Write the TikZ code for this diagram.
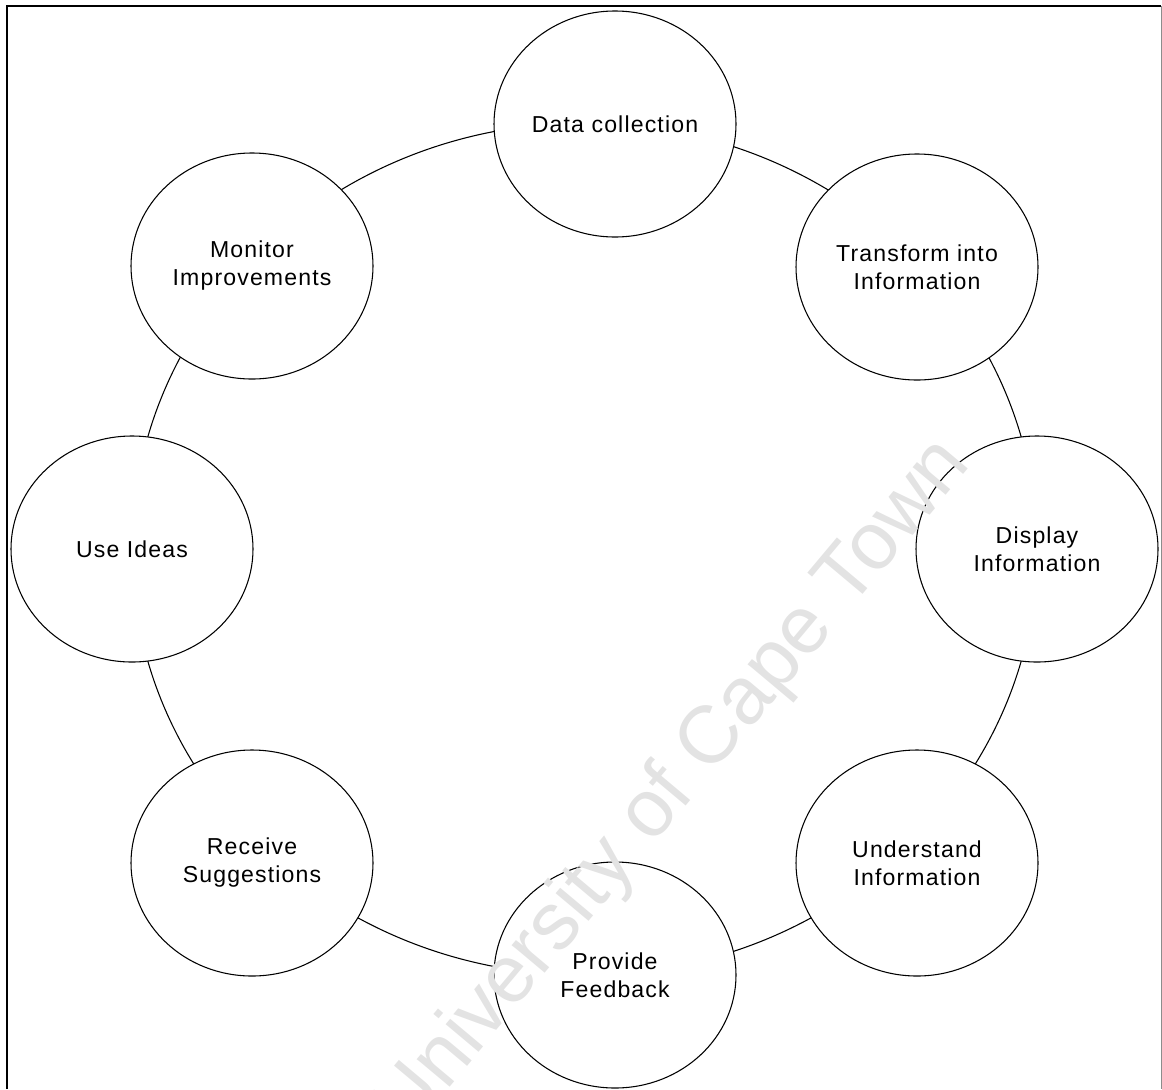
\documentclass[tikz,border=0pt]{standalone}
\usepackage{fontspec}
\setmainfont{Liberation Sans}[LetterSpace=5]
\newfontfamily\markfont{Liberation Sans}
\usetikzlibrary{shapes.geometric}
\begin{document}
\begin{tikzpicture}[x=0.75pt,y=-0.75pt,
  stage/.style={ellipse, draw, line width=0.8pt, fill=white,
    minimum width=181.5pt, minimum height=169.5pt, inner sep=0pt,
    align=center, font=\fontsize{17.3pt}{21pt}\selectfont},
  ringline/.style={line width=0.8pt},
  frameline/.style={line width=1.3pt}]
\useasboundingbox (0,0) rectangle (1162,1089);
% frame
\draw[frameline] (7,1089) -- (7,6) -- (1161,6);
\draw[line width=0.6pt, black!45] (1161,6) -- (1161,1089);
% the cycle
\coordinate (ringc) at (584.5,549);
\draw[ringline] (ringc) ellipse [x radius=339.4pt, y radius=319.5pt];
% stages
\node[stage] (dc) at (615,124) {Data collection};
\node[stage] (tr) at (917,267) {Transform into\\Information};
\node[stage] (di) at (1037,549) {Display\\Information};
\node[stage] (un) at (917,863) {Understand\\Information};
\node[stage] (pf) at (615,975) {Provide\\Feedback};
\node[stage] (rs) at (252,863) {Receive\\Suggestions};
\node[stage] (ui) at (132,549) {Use Ideas};
\node[stage] (mi) at (252,266) {Monitor\\Improvements};
% watermark over everything
\node[text=black!11, rotate=50, font=\markfont\fontsize{61pt}{61pt}\selectfont]
  (mark) at (674,787) {University of Cape Town};
\end{tikzpicture}
\end{document}
